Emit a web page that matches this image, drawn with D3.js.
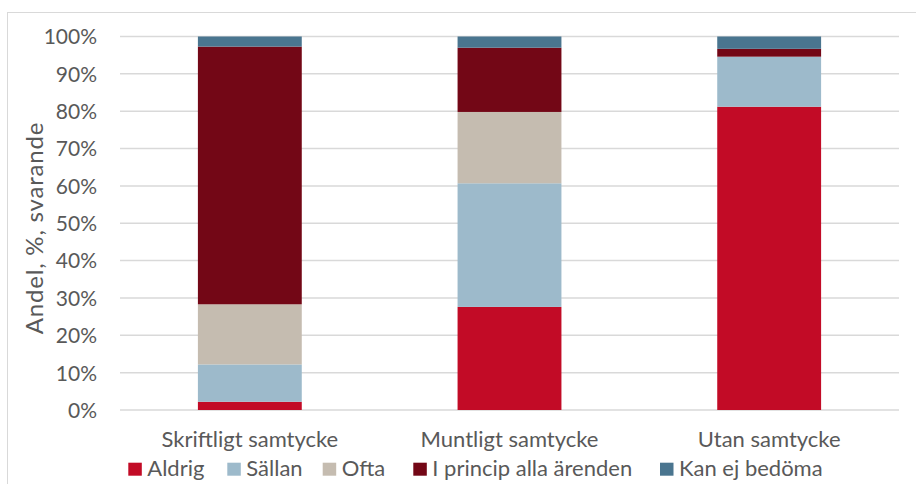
<!DOCTYPE html>
<html>
<head>
<meta charset="utf-8">
<script src="https://cdn.jsdelivr.net/npm/d3@7"></script>
<style>
  html, body { margin: 0; padding: 0; background: #fff; }
  svg { display: block; }
  text { font-family: Lato, "Open Sans", sans-serif; fill: #595959; }
</style>
</head>
<body>
<svg id="chart" width="916" height="484"></svg>
<script>
const categories = ["Skriftligt samtycke", "Muntligt samtycke", "Utan samtycke"];
const seriesNames = ["Aldrig", "Sällan", "Ofta", "I princip alla ärenden", "Kan ej bedöma"];
const aldrig   = [2.2, 27.6, 81.2];
const sallan   = [10.0, 33.1, 13.4];
const ofta     = [16.1, 19.1, 0.0];
const iprincip = [69.0, 17.2, 2.1];
const kanej    = [2.7, 3.0, 3.3];
const yTicks = [0, 10, 20, 30, 40, 50, 60, 70, 80, 90, 100];
const colors = ["#C20B26", "#9DBACB", "#C5BCB0", "#730716", "#4A758F"];

const seriesValues = [aldrig, sallan, ofta, iprincip, kanej];
const rows = categories.map((c, i) => {
  const r = { category: c };
  seriesNames.forEach((s, k) => r[s] = seriesValues[k][i]);
  return r;
});

const svg = d3.select("#chart");

// outer chart border
svg.append("rect")
  .attr("x", 7.5).attr("y", 12.5)
  .attr("width", 930).attr("height", 500)
  .attr("fill", "none").attr("stroke", "#D9D9D9").attr("stroke-width", 1);

const plot = { left: 120, right: 899, top: 36.5, bottom: 410 };

const x = d3.scaleBand()
  .domain(categories)
  .range([plot.left, plot.right])
  .paddingInner(0.6)
  .paddingOuter(0.3);

const y = d3.scaleLinear()
  .domain([0, 100])
  .range([plot.bottom, plot.top]);

// gridlines
svg.append("g")
  .selectAll("line")
  .data(yTicks)
  .join("line")
  .attr("x1", plot.left).attr("x2", plot.right)
  .attr("y1", d => y(d)).attr("y2", d => y(d))
  .attr("stroke", "#D9D9D9").attr("stroke-width", 1.5);

// y axis labels
const yAxis = d3.axisLeft(y).tickValues(yTicks).tickFormat(d => d + "%").tickSize(0).tickPadding(0);
const ya = svg.append("g").attr("transform", `translate(97,0)`).call(yAxis);
ya.select(".domain").remove();
ya.selectAll("text")
  .style("font-family", "Lato, 'Open Sans', sans-serif")
  .style("font-size", "21px")
  .attr("fill", "#595959")
  .attr("dy", "0.35em");

// stacked bars
const stack = d3.stack().keys(seriesNames);
const stacked = stack(rows);

svg.append("g")
  .selectAll("g")
  .data(stacked)
  .join("g")
  .attr("fill", (d, i) => colors[i])
  .selectAll("rect")
  .data(d => d.map(v => ({ v, cat: v.data.category })))
  .join("rect")
  .attr("x", d => x(d.cat))
  .attr("width", x.bandwidth())
  .attr("y", d => y(d.v[1]))
  .attr("height", d => Math.max(0, y(d.v[0]) - y(d.v[1])));

// category labels
const xAxis = d3.axisBottom(x).tickSize(0).tickPadding(0);
const xa = svg.append("g").attr("transform", `translate(0,447)`).call(xAxis);
xa.select(".domain").remove();
xa.selectAll("text")
  .style("font-family", "Lato, 'Open Sans', sans-serif")
  .style("font-size", "22px")
  .attr("fill", "#595959")
  .attr("y", 0).attr("dy", 0);

// y axis title
svg.append("text")
  .attr("transform", "translate(43,228) rotate(-90)")
  .attr("text-anchor", "middle")
  .style("font-size", "24px")
  .style("letter-spacing", "0.8px")
  .text("Andel, %, svarande");

// legend
const legendX = [128.3, 227.3, 322.7, 413.3, 660];
const lg = svg.append("g");
seriesNames.forEach((s, i) => {
  lg.append("rect")
    .attr("x", legendX[i]).attr("y", 462.7)
    .attr("width", 13.5).attr("height", 13)
    .attr("fill", colors[i]);
  lg.append("text")
    .attr("x", legendX[i] + 19).attr("y", 476)
    .style("font-size", "22px")
    .text(s);
});
</script>
</body>
</html>
